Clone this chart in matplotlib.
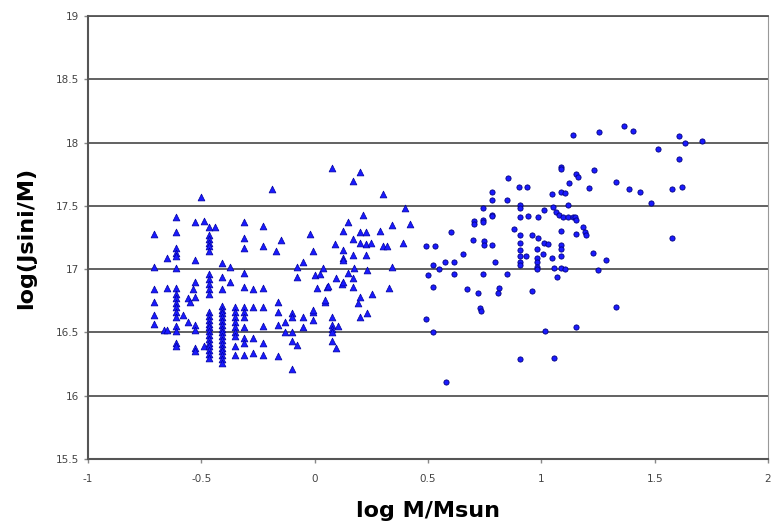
import numpy as np
import matplotlib
matplotlib.use("Agg")
import matplotlib.pyplot as plt

# triangulos (estrellas de baja masa)
tri_x = ([-0.71] * 6 + [-0.665] + [-0.65] * 3 + [-0.61] * 17 + [-0.58, -0.56, -0.56, -0.55, -0.535]
         + [-0.527] * 8 + [-0.50, -0.49, -0.49] + [-0.465] * 24 + [-0.44] + [-0.41] * 19
         + [-0.375, -0.375] + [-0.35] * 9 + [-0.31] * 12 + [-0.27] * 4 + [-0.23] * 7
         + [-0.19] + [-0.16] * 4 + [-0.15, -0.17, -0.13, -0.13] + [-0.10] * 5
         + [-0.076, -0.076, -0.05, -0.05, -0.05, -0.076, -0.02] + [-0.006] * 4
         + [0.003, 0.012, 0.025, 0.038, 0.047, 0.047, 0.056, 0.06]
         + [0.078] * 6 + [0.09, 0.096, 0.096, 0.105, 0.12] + [0.127] * 5
         + [0.145, 0.145, 0.167] + [0.171] * 4 + [0.175, 0.189] + [0.20] * 5
         + [0.215, 0.228, 0.228, 0.228, 0.233, 0.233, 0.25, 0.255, 0.29, 0.30, 0.30,
            0.32, 0.326, 0.343, 0.343, 0.39, 0.40, 0.42])
tri_y = ([17.28, 17.02, 16.84, 16.74, 16.64, 16.57]
         + [16.52]
         + [17.09, 16.85, 16.52]
         + [17.41, 17.29, 17.17, 17.13, 17.10, 17.01, 16.85, 16.80, 16.77, 16.73, 16.70,
            16.66, 16.62, 16.55, 16.51, 16.42, 16.39]
         + [16.64, 16.77, 16.58, 16.74, 16.84]
         + [17.37, 17.07, 16.90, 16.78, 16.56, 16.52, 16.38, 16.35]
         + [17.57, 17.38, 16.39]
         + [17.33, 17.27, 17.24, 17.21, 17.18, 17.14, 16.96, 16.92, 16.88, 16.84, 16.80,
            16.66, 16.63, 16.60, 16.57, 16.54, 16.51, 16.48, 16.45, 16.42, 16.39, 16.36,
            16.33, 16.30]
         + [17.33]
         + [17.05, 16.94, 16.84, 16.71, 16.68, 16.65, 16.62, 16.59, 16.56, 16.53, 16.50,
            16.47, 16.44, 16.41, 16.38, 16.35, 16.32, 16.29, 16.26]
         + [17.02, 16.90]
         + [16.70, 16.66, 16.62, 16.58, 16.54, 16.50, 16.47, 16.39, 16.32]
         + [17.37, 17.25, 17.17, 16.97, 16.86, 16.70, 16.66, 16.62, 16.54, 16.46, 16.42, 16.32]
         + [16.84, 16.70, 16.46, 16.34]
         + [17.34, 17.18, 16.85, 16.70, 16.55, 16.42, 16.32]
         + [17.63]
         + [16.74, 16.66, 16.56, 16.31]
         + [17.23, 17.14, 16.58, 16.50]
         + [16.65, 16.62, 16.50, 16.43, 16.21]
         + [16.94, 16.40, 16.62, 16.54, 17.06, 17.02, 17.28]
         + [17.14, 16.66, 16.60, 16.68]
         + [16.95, 16.85, 16.96, 17.01, 16.74, 16.76, 16.86, 16.87]
         + [17.80, 16.62, 16.56, 16.53, 16.50, 16.43]
         + [17.20, 16.93, 16.38, 16.55, 16.88]
         + [17.30, 17.15, 17.09, 17.07, 16.90]
         + [17.37, 16.97, 17.11]
         + [17.70, 17.24, 16.93, 16.86]
         + [17.01, 16.73]
         + [17.77, 17.29, 17.21, 16.78, 16.62]
         + [17.43, 17.29, 17.20, 17.11, 16.99, 16.65, 17.21, 16.80, 17.30, 17.59, 17.18,
            17.18, 16.85, 17.35, 17.02, 17.21, 17.48, 17.36])

# circulos (estrellas de mayor masa)
dot_x = [0.489, 0.529, 0.520, 0.498, 0.547, 0.573, 0.613, 0.653, 0.613, 0.741, 0.794,
         0.520, 0.670, 0.719, 0.812, 0.807, 0.958, 0.728, 0.732, 0.489, 0.520, 1.015,
         1.152, 0.905, 1.055, 0.578,
         0.600, 0.697, 0.745, 0.745, 0.781, 0.878,
         0.905, 0.905, 0.905, 0.905, 0.905, 0.905, 0.931,
         0.958, 0.984, 1.011, 1.028,
         0.98, 0.98, 0.98, 0.98, 0.98, 1.006, 1.046,
         1.086, 1.086, 1.086, 1.086, 1.183, 1.192, 1.196, 1.152,
         1.227, 1.055, 1.086, 1.103, 1.068, 1.249, 0.847,
         1.139, 1.254, 1.086, 1.086, 1.152, 1.161, 1.232, 1.121, 1.209, 0.852, 0.900,
         0.935, 0.781, 0.781, 0.847, 1.046, 1.086, 1.103, 0.741, 0.905, 0.905, 0.781,
         0.781, 0.701, 0.701, 0.741, 0.741, 0.905, 0.940, 0.984, 1.011, 1.050, 1.064,
         1.077, 1.095, 1.117, 1.139, 1.148, 1.152, 1.117,
         1.364, 1.404, 1.607, 1.634, 1.709, 1.514, 1.607, 1.329, 1.386, 1.435, 1.576,
         1.620, 1.483, 1.576, 1.285, 1.329]
dot_y = [17.18, 17.18, 17.03, 16.95, 17.00, 17.06, 17.06, 17.12, 16.96, 16.96, 17.06,
         16.86, 16.84, 16.81, 16.85, 16.81, 16.83, 16.69, 16.67, 16.61, 16.50, 16.51,
         16.54, 16.29, 16.30, 16.11,
         17.29, 17.23, 17.22, 17.19, 17.19, 17.32,
         17.27, 17.21, 17.15, 17.10, 17.06, 17.03, 17.10,
         17.27, 17.25, 17.21, 17.20,
         17.16, 17.09, 17.06, 17.02, 17.00, 17.12, 17.09,
         17.19, 17.16, 17.10, 17.30, 17.33, 17.29, 17.27, 17.28,
         17.13, 17.01, 17.01, 17.00, 16.94, 16.99, 16.96,
         18.06, 18.08, 17.81, 17.79, 17.75, 17.73, 17.78, 17.68, 17.64, 17.72, 17.65,
         17.65, 17.61, 17.55, 17.55, 17.59, 17.61, 17.60, 17.48, 17.51, 17.48, 17.43,
         17.42, 17.38, 17.36, 17.39, 17.37, 17.41, 17.42, 17.41, 17.47, 17.49, 17.45,
         17.43, 17.41, 17.41, 17.41, 17.41, 17.39, 17.51,
         18.13, 18.09, 18.05, 18.00, 18.01, 17.95, 17.87, 17.69, 17.63, 17.61, 17.63,
         17.65, 17.52, 17.25, 17.07, 16.70]

x_ticks = [-1, -0.5, 0, 0.5, 1, 1.5, 2]
x_labels = ["-1", "-0.5", "0", "0.5", "1", "1.5", "2"]
y_ticks = [15.5, 16, 16.5, 17, 17.5, 18, 18.5, 19]
y_labels = ["15.5", "16", "16.5", "17", "17.5", "18", "18.5", "19"]

fig = plt.figure(figsize=(7.76, 5.25), dpi=100)
ax = fig.add_axes([0.1134, 0.1257, 0.8763, 0.8438])

ax.scatter(tri_x, tri_y, marker="^", s=24, color="#1a1aff", edgecolors="#0000a0",
           linewidths=0.5, zorder=3)
ax.scatter(dot_x, dot_y, marker="o", s=14, color="#1a1aff", edgecolors="#000080",
           linewidths=0.6, zorder=3)

ax.set_xlim(-1, 2)
ax.set_ylim(15.5, 19)
ax.set_xticks(x_ticks)
ax.set_xticklabels(x_labels)
ax.set_yticks(y_ticks)
ax.set_yticklabels(y_labels)
ax.tick_params(labelsize=7.5, labelcolor="#444444", colors="#888888", length=3, width=1)
ax.tick_params(axis="x", pad=8)

ax.grid(True, axis="y", color="#555555", linewidth=1.3)
ax.set_axisbelow(True)
for side in ["left", "bottom"]:
    ax.spines[side].set_color("#555555")
    ax.spines[side].set_linewidth(1.5)
ax.spines["right"].set_color("#999999")
ax.spines["top"].set_color("#555555")
ax.spines["top"].set_linewidth(1.3)

ax.set_xlabel("log M/Msun", fontsize=16, fontweight="bold", labelpad=12)
ax.set_ylabel("log(Jsini/M)", fontsize=16, fontweight="bold", labelpad=14)

plt.savefig("out.png", dpi=100)
